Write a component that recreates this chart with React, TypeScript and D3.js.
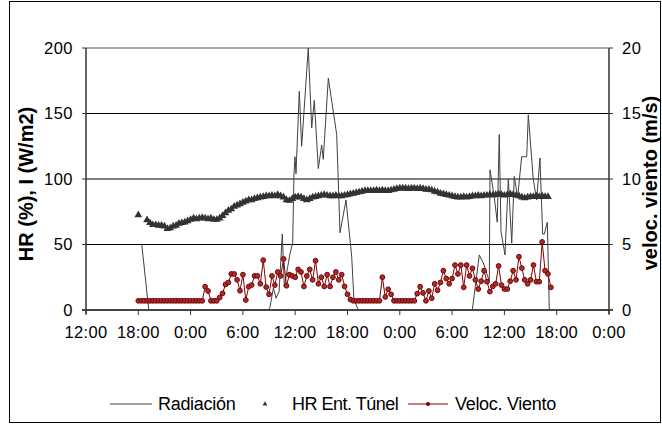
import * as d3 from "d3";

// x axis: hours since 12:00 of day 1
const xTickLabels = ["12:00", "18:00", "0:00", "6:00", "12:00", "18:00", "0:00", "6:00", "12:00", "18:00", "0:00"];
const leftTicks = [0, 50, 100, 150, 200];
const rightTicks = [0, 5, 10, 15, 20];

// HR and wind are logged every 20 min starting at 18:00
const startHour = 6;
const stepHours = 1 / 3;

const hrTunel: (number | null)[] = [
  72.5, null, null, 68.7, 66.5, 65, 65, 64.5, 64.5, 64,
  62, 62.5, 64, 64.5, 66, 66.5, 67, 68, 69, 70,
  69.5, 70, 70.5, 70, 69.5, 70, 69, 69, 70, 72,
  74, 76, 77, 79, 80, 81, 82, 83, 84, 84,
  85, 85.5, 86, 86.5, 87, 87, 87.5, 87, 88, 87,
  86, 84, 83.5, 85, 86, 86.5, 86, 85, 84, 85,
  86, 86.5, 87, 87.5, 88, 87.5, 87, 87, 87.5, 87,
  87, 87.5, 88, 88.5, 89, 89.5, 90, 90.5, 91, 91,
  91, 91, 91.5, 91, 91.5, 91, 91, 91.5, 92, 92.5,
  93, 93, 93, 92.5, 93, 93, 92.5, 93, 92.5, 92,
  92, 91.5, 90.5, 90, 89, 88.5, 88, 87.5, 87, 86.5,
  86, 86, 86.5, 86, 86.5, 87, 87, 87.5, 87, 87.5,
  87.5, 88, 87.5, 88, 88.5, 88, 87.5, 88, 88.5, 88,
  87.5, 87, 86, 85.5, 86, 86.5, 86.5, 87, 86.5, 87,
  86.5, 86.5, null,
];

const windSpeed: number[] = [
  0.7, 0.7, 0.7, 0.7, 0.7, 0.7, 0.7, 0.7, 0.7, 0.7,
  0.7, 0.7, 0.7, 0.7, 0.7, 0.7, 0.7, 0.7, 0.7, 0.7,
  0.7, 0.7, 0.7, 1.78, 1.45, 0.7, 0.7, 0.7, 0.95, 1.27,
  1.95, 2.1, 2.75, 2.75, 2.3, 1.47, 2.7, 0.76, 1.78, 1.9,
  2.6, 2.6, 2.0, 3.8, 1.75, 1.2, 2.6, 1.9, 2.9, 2.6,
  3.9, 1.85, 2.7, 2.6, 2.5, 3.1, 2.9, 1.8, 2.6, 3.1,
  2.3, 3.76, 2.0, 2.5, 1.8, 2.7, 1.8, 2.5, 2.9, 2.3,
  2.7, 1.8, 1.2, 0.8, 0.7, 0.7, 0.7, 0.7, 0.7, 0.7,
  0.7, 0.7, 0.7, 0.7, 2.5, 1.0, 1.58, 1.2, 0.7, 0.7,
  0.7, 0.7, 0.7, 0.7, 0.7, 0.7, 1.25, 1.78, 1.3, 0.7,
  1.45, 0.9, 2.0, 1.5, 2.1, 3.0, 2.4, 2.0, 2.4, 3.43,
  2.75, 3.43, 1.73, 3.43, 2.6, 3.18, 2.3, 1.6, 2.2, 3.0,
  2.16, 1.4, 1.8, 2.0, 3.36, 1.9, 1.6, 1.6, 2.2, 3.0,
  2.3, 4.07, 3.2, 2.3, 2.0, 2.3, 3.43, 2.16, 2.16, 5.2,
  3.0, 2.75, 1.73,
];

// radiation has its own (irregular) time stamps
const radHours = [
  6.4, 7.2, 20.9, 21.1, 21.5, 21.8, 22.15, 22.52, 22.75, 23.14,
  23.4, 23.71, 23.86, 23.98, 24.09, 24.47, 24.74, 25.5, 25.89, 26.19,
  26.65, 27.04, 27.22, 27.8, 28.76, 29.14, 29.83, 30.48, 30.74, 31.24,
  44.32, 45.12, 45.58, 46.27, 46.35, 46.84, 47.18, 47.41, 47.61, 48.07,
  48.45, 48.84, 49.13, 49.52, 49.98, 50.56, 50.74, 51.31, 51.7, 52.08,
  52.39, 52.58, 52.92, 53.15,
];
const radiation = [
  50, 0, 0, 2, 17, 9, 14, 58, 18, 33,
  43, 51, 104, 117, 104, 167, 125, 200, 139, 160,
  108, 126, 115, 177, 134, 59, 84, 41, 8, 0,
  0, 42, 36, 22, 107, 86, 67, 134, 60, 42,
  100, 51, 102, 86, 117, 117, 149, 100, 84, 116,
  58, 58, 67, 0,
];

const font = "'Liberation Sans', Arial, sans-serif";

const App = () => {
  const width = 662;
  const height = 424;
  const left = 86;
  const right = 609;
  const top = 48;
  const bottom = 310;

  const x = d3.scaleLinear().domain([0, 60]).range([left, right]);
  const yL = d3.scaleLinear().domain([0, 200]).range([bottom, top]);
  const yR = d3.scaleLinear().domain([0, 20]).range([bottom, top]);

  const t = (i: number) => startHour + i * stepHours;

  const radLine = d3
    .line<number>()
    .x((_, i) => x(radHours[i]))
    .y((d) => yL(d));

  const windLine = d3
    .line<number>()
    .x((_, i) => x(t(i)))
    .y((d) => yR(d));

  const tri = d3.symbol(d3.symbolTriangle, 26)();
  const triSmall = d3.symbol(d3.symbolTriangle, 10)();

  const legendY = 404;

  return (
    <svg width={width} height={height} style={{ position: "absolute", left: 0, top: 0 }} fontFamily={font}>
      <rect x={0} y={0} width={width} height={height} fill="#fff" />
      <rect x={9.5} y={1.5} width={651} height={421} fill="none" stroke="#000" />

      {/* grid */}
      {leftTicks.map((v) => (
        <line key={v} x1={left} x2={right} y1={yL(v)} y2={yL(v)}
          stroke={v === 200 ? "#888" : "#000"} strokeWidth={v === 200 ? 1.5 : 1} />
      ))}

      {/* axes */}
      <line x1={left} x2={left} y1={top} y2={bottom + 4} stroke="#333" strokeWidth={1.5} />
      <line x1={right} x2={right} y1={top} y2={bottom + 4} stroke="#333" strokeWidth={1.5} />
      <line x1={left - 4} x2={right + 4} y1={bottom} y2={bottom} stroke="#333" strokeWidth={1.5} />

      {leftTicks.map((v) => (
        <g key={"l" + v}>
          <line x1={left - 4} x2={left} y1={yL(v)} y2={yL(v)} stroke="#333" />
          <text x={73} y={yL(v)} dy="0.35em" textAnchor="end" fontSize={16.5} letterSpacing={0.5}>{v}</text>
        </g>
      ))}
      {rightTicks.map((v) => (
        <g key={"r" + v}>
          <line x1={right} x2={right + 4} y1={yR(v)} y2={yR(v)} stroke="#333" />
          <text x={622} y={yR(v)} dy="0.35em" textAnchor="start" fontSize={16.5} letterSpacing={0.5}>{v}</text>
        </g>
      ))}
      {xTickLabels.map((lab, i) => (
        <g key={"x" + i}>
          <line x1={x(i * 6)} x2={x(i * 6)} y1={bottom} y2={bottom + 5} stroke="#333" />
          <text x={x(i * 6)} y={332} dy="0.35em" textAnchor="middle" fontSize={16.5} letterSpacing={0.3}>{lab}</text>
        </g>
      ))}

      <text transform="translate(33,184) rotate(-90)" textAnchor="middle" fontSize={20} fontWeight="bold">
        HR (%), I (W/m2)
      </text>
      <text transform="translate(657,183) rotate(-90)" textAnchor="middle" fontSize={20} fontWeight="bold">
        veloc. viento (m/s)
      </text>

      {/* radiation */}
      <path d={radLine(radiation) ?? ""} fill="none" stroke="#404040" strokeWidth={1} />

      {/* HR triangles */}
      {hrTunel.map((v, i) =>
        v == null ? null : (
          <path key={"h" + i} d={tri} transform={`translate(${x(t(i))},${yL(v)})`} fill="#333" />
        )
      )}

      {/* wind */}
      <path d={windLine(windSpeed) ?? ""} fill="none" stroke="#800000" strokeWidth={1} />
      {windSpeed.map((v, i) => (
        <circle key={"w" + i} cx={x(t(i))} cy={yR(v)} r={2.4} fill="#a03030" stroke="#800000" strokeWidth={1} />
      ))}

      {/* legend */}
      <line x1={110} x2={152} y1={legendY} y2={legendY} stroke="#404040" />
      <text x={158} y={legendY} dy="0.35em" fontSize={18} letterSpacing={-0.3}>Radiación</text>
      <path d={triSmall} transform={`translate(265,${legendY})`} fill="#333" />
      <text x={292} y={legendY} dy="0.35em" fontSize={18} letterSpacing={-0.5}>HR Ent. Túnel</text>
      <line x1={408} x2={448} y1={legendY} y2={legendY} stroke="#800000" />
      <circle cx={428} cy={legendY} r={2} fill="#800000" />
      <text x={455} y={legendY} dy="0.35em" fontSize={18} letterSpacing={-0.3}>Veloc. Viento</text>
    </svg>
  );
};

export default App;
